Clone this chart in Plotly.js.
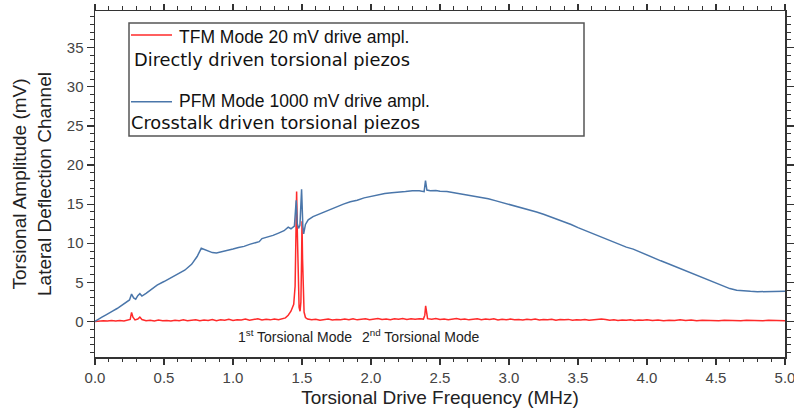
<!DOCTYPE html>
<html>
<head>
<meta charset="utf-8">
<script src="https://cdn.plot.ly/plotly-3.0.1.min.js"></script>
<style>html,body{margin:0;padding:0;background:#fff;}#chart{width:794px;height:412px;}</style>
</head>
<body>
<div id="chart"></div>
<script>
// ---- Data ----
const pfmFreq = [0.00,0.02,0.05,0.08,0.10,0.13,0.16,0.19,0.22,0.25,0.265,0.28,0.295,0.31,0.325,0.34,0.37,0.40,0.45,0.50,0.55,0.60,0.65,0.70,0.74,0.77,0.79,0.82,0.85,0.88,0.92,0.96,1.00,1.04,1.08,1.12,1.16,1.19,1.21,1.25,1.29,1.33,1.37,1.40,1.42,1.445,1.458,1.466,1.475,1.485,1.497,1.506,1.512,1.525,1.545,1.58,1.62,1.66,1.70,1.75,1.80,1.85,1.90,1.95,2.00,2.05,2.10,2.15,2.20,2.25,2.30,2.35,2.385,2.395,2.405,2.43,2.47,2.50,2.55,2.60,2.65,2.70,2.75,2.80,2.85,2.90,2.95,3.00,3.05,3.10,3.15,3.20,3.25,3.30,3.35,3.40,3.45,3.50,3.55,3.60,3.65,3.70,3.75,3.80,3.85,3.90,3.95,4.00,4.05,4.10,4.15,4.20,4.25,4.30,4.35,4.40,4.45,4.50,4.55,4.60,4.65,4.70,4.75,4.80,4.85,4.90,4.95,5.00];
const pfmAmp  = [0.00,0.25,0.55,0.85,1.02,1.35,1.65,2.00,2.35,2.75,3.50,3.00,2.85,3.30,3.55,3.25,3.60,4.00,4.65,5.10,5.55,6.00,6.55,7.30,8.30,9.35,9.20,9.00,8.80,8.75,8.90,9.10,9.25,9.45,9.60,9.85,10.05,10.20,10.60,10.80,11.00,11.30,11.60,12.05,11.85,12.20,15.50,12.50,11.90,12.30,16.90,12.20,11.20,12.40,13.00,13.40,13.70,14.05,14.35,14.70,15.00,15.30,15.50,15.80,16.00,16.20,16.35,16.45,16.50,16.60,16.70,16.70,16.60,18.00,16.80,16.70,16.75,16.65,16.60,16.45,16.30,16.20,16.05,15.90,15.70,15.45,15.20,15.00,14.80,14.55,14.30,14.00,13.70,13.40,13.10,12.75,12.40,12.00,11.65,11.30,10.90,10.50,10.15,9.80,9.50,9.25,8.85,8.45,8.05,7.75,7.40,7.05,6.70,6.35,6.00,5.60,5.20,4.85,4.50,4.20,4.00,3.90,3.85,3.80,3.80,3.80,3.85,3.85];

const tfmFreq = [0.00,0.03,0.06,0.09,0.12,0.15,0.18,0.21,0.24,0.255,0.265,0.275,0.29,0.31,0.325,0.34,0.37,0.40,0.43,0.46,0.49,0.52,0.55,0.58,0.61,0.64,0.67,0.70,0.73,0.76,0.79,0.82,0.85,0.88,0.91,0.94,0.97,1.00,1.03,1.06,1.09,1.12,1.15,1.18,1.21,1.24,1.27,1.30,1.33,1.36,1.38,1.40,1.42,1.44,1.450,1.456,1.461,1.466,1.472,1.479,1.486,1.492,1.497,1.500,1.504,1.509,1.515,1.525,1.54,1.57,1.60,1.63,1.66,1.69,1.72,1.75,1.78,1.81,1.84,1.87,1.90,1.93,1.96,1.99,2.02,2.05,2.08,2.11,2.14,2.17,2.20,2.23,2.26,2.29,2.32,2.35,2.38,2.39,2.396,2.402,2.41,2.44,2.47,2.50,2.53,2.56,2.59,2.62,2.65,2.68,2.71,2.74,2.77,2.80,2.83,2.86,2.89,2.92,2.95,2.98,3.01,3.04,3.07,3.10,3.13,3.16,3.19,3.22,3.25,3.28,3.31,3.34,3.37,3.40,3.43,3.46,3.49,3.52,3.55,3.58,3.61,3.64,3.67,3.70,3.73,3.76,3.79,3.82,3.85,3.88,3.91,3.94,3.97,4.00,4.04,4.08,4.12,4.16,4.20,4.24,4.28,4.32,4.36,4.40,4.44,4.48,4.52,4.56,4.60,4.64,4.68,4.72,4.76,4.80,4.84,4.88,4.92,4.96,5.00];
const tfmAmp  = [0.00,0.06,0.10,0.04,0.12,0.07,0.11,0.05,0.14,0.25,1.15,0.55,0.20,0.30,0.55,0.25,0.10,0.15,0.06,0.18,0.08,0.13,0.05,0.16,0.10,0.20,0.08,0.15,0.22,0.10,0.18,0.12,0.25,0.10,0.20,0.15,0.28,0.12,0.22,0.18,0.30,0.15,0.25,0.35,0.18,0.28,0.20,0.32,0.22,0.35,0.45,0.80,1.30,2.20,4.50,11.00,16.60,11.50,4.00,1.80,1.30,2.50,8.00,12.80,8.00,3.00,1.20,0.50,0.30,0.20,0.28,0.15,0.25,0.32,0.18,0.26,0.20,0.30,0.22,0.35,0.20,0.28,0.35,0.22,0.30,0.38,0.25,0.32,0.22,0.35,0.28,0.38,0.25,0.33,0.27,0.35,0.30,0.80,2.00,0.90,0.35,0.28,0.36,0.25,0.32,0.22,0.30,0.38,0.26,0.32,0.20,0.28,0.35,0.22,0.30,0.25,0.33,0.18,0.28,0.22,0.30,0.20,0.26,0.18,0.28,0.22,0.30,0.18,0.25,0.20,0.28,0.15,0.24,0.20,0.26,0.14,0.22,0.18,0.25,0.15,0.22,0.27,0.32,0.25,0.15,0.20,0.12,0.18,0.15,0.22,0.12,0.18,0.14,0.20,0.12,0.18,0.10,0.16,0.13,0.20,0.11,0.17,0.09,0.15,0.12,0.18,0.10,0.16,0.13,0.19,0.10,0.15,0.12,0.17,0.09,0.14,0.11,0.16,0.10,0.13,0.12];

const xTickVals = [0,0.5,1,1.5,2,2.5,3,3.5,4,4.5,5];
const xTickText = ["0.0","0.5","1.0","1.5","2.0","2.5","3.0","3.5","4.0","4.5","5.0"];
const yTickVals = [0,5,10,15,20,25,30,35];

const modeLabels = ["1<sup>st</sup> Torsional Mode","2<sup>nd</sup> Torsional Mode"];
const modeLabelX = [1.45, 2.36];

const legendMain = ["TFM Mode 20 mV drive ampl.","PFM Mode 1000 mV drive ampl."];
const legendSub  = ["Directly driven torsional piezos","Crosstalk driven torsional piezos"];

const RED = "#ff2a2a";
const BLUE = "#4a76aa";

// ---- Geometry helpers (pixel -> paper) ----
const L = 95, R = 9, T = 11, B = 55, W = 794, H = 412;
const pw = W - L - R, ph = H - T - B;
const px = v => (v - L) / pw;
const py = v => (H - B - v) / ph;

const traces = [
  {x: tfmFreq, y: tfmAmp, type: "scatter", mode: "lines", line: {color: RED, width: 1.5}, showlegend: false, hoverinfo: "skip"},
  {x: pfmFreq, y: pfmAmp, type: "scatter", mode: "lines", line: {color: BLUE, width: 1.5}, showlegend: false, hoverinfo: "skip"}
];

const tickFont = {family: "Liberation Sans, Arial, sans-serif", size: 15, color: "#444"};
const titleFont = {family: "Liberation Sans, Arial, sans-serif", size: 19, color: "#222"};
const legFont = {family: "Liberation Sans, Arial, sans-serif", size: 17.5, color: "#111"};
const subFont = {family: "DejaVu Sans, Verdana, sans-serif", size: 17.8, color: "#111"};

const annotations = [];
modeLabels.forEach((t, i) => annotations.push({
  x: modeLabelX[i], y: -1.8, xref: "x", yref: "y", text: t, showarrow: false,
  xanchor: "center", yanchor: "middle",
  font: {family: "Liberation Sans, Arial, sans-serif", size: 14, color: "#222"}
}));
annotations.push({x: px(177), y: py(37), xref: "paper", yref: "paper", text: legendMain[0], showarrow: false, xanchor: "left", yanchor: "middle", font: legFont});
annotations.push({x: px(132), y: py(60), xref: "paper", yref: "paper", text: legendSub[0], showarrow: false, xanchor: "left", yanchor: "middle", font: subFont});
annotations.push({x: px(177), y: py(101), xref: "paper", yref: "paper", text: legendMain[1], showarrow: false, xanchor: "left", yanchor: "middle", font: legFont});
annotations.push({x: px(129), y: py(123), xref: "paper", yref: "paper", text: legendSub[1], showarrow: false, xanchor: "left", yanchor: "middle", font: subFont});

const shapes = [
  {type: "rect", xref: "paper", yref: "paper", x0: px(129), x1: px(584), y0: py(136), y1: py(23), line: {color: "#555", width: 1.5}, fillcolor: "rgba(0,0,0,0)"},
  {type: "line", xref: "paper", yref: "paper", x0: px(131), x1: px(172), y0: py(35), y1: py(35), line: {color: RED, width: 1.5}},
  {type: "line", xref: "paper", yref: "paper", x0: px(131), x1: px(172), y0: py(101.7), y1: py(101.7), line: {color: BLUE, width: 1.5}}
];

const layout = {
  width: W, height: H,
  margin: {l: L, r: R, t: T, b: B, pad: 0},
  paper_bgcolor: "#fff", plot_bgcolor: "#fff",
  showlegend: false,
  xaxis: {
    range: [0, 5], tickvals: xTickVals, ticktext: xTickText,
    ticks: "outside", ticklen: 6, tickwidth: 1.2, tickcolor: "#333",
    minor: {dtick: 0.1, ticks: "outside", ticklen: 3.5, tickwidth: 1, tickcolor: "#333"},
    showline: true, linecolor: "#333", linewidth: 1.5, mirror: "ticks",
    showgrid: false, zeroline: false, tickfont: tickFont, ticklabeloverflow: "allow",
    title: {text: "Torsional Drive Frequency (MHz)", font: titleFont, standoff: 6}
  },
  yaxis: {
    range: [-4.55, 39.7], tickvals: yTickVals,
    ticks: "outside", ticklen: 7, tickwidth: 1.2, tickcolor: "#333",
    minor: {dtick: 1, ticks: "outside", ticklen: 4, tickwidth: 1, tickcolor: "#333"},
    showline: true, linecolor: "#333", linewidth: 1.5, mirror: "ticks",
    showgrid: false, zeroline: false, tickfont: tickFont,
    title: {text: "Torsional Amplitude (mV)<br>Lateral Deflection Channel", font: titleFont, standoff: 10}
  },
  annotations: annotations,
  shapes: shapes
};

Plotly.newPlot("chart", traces, layout, {staticPlot: true, displayModeBar: false});
</script>
</body>
</html>
